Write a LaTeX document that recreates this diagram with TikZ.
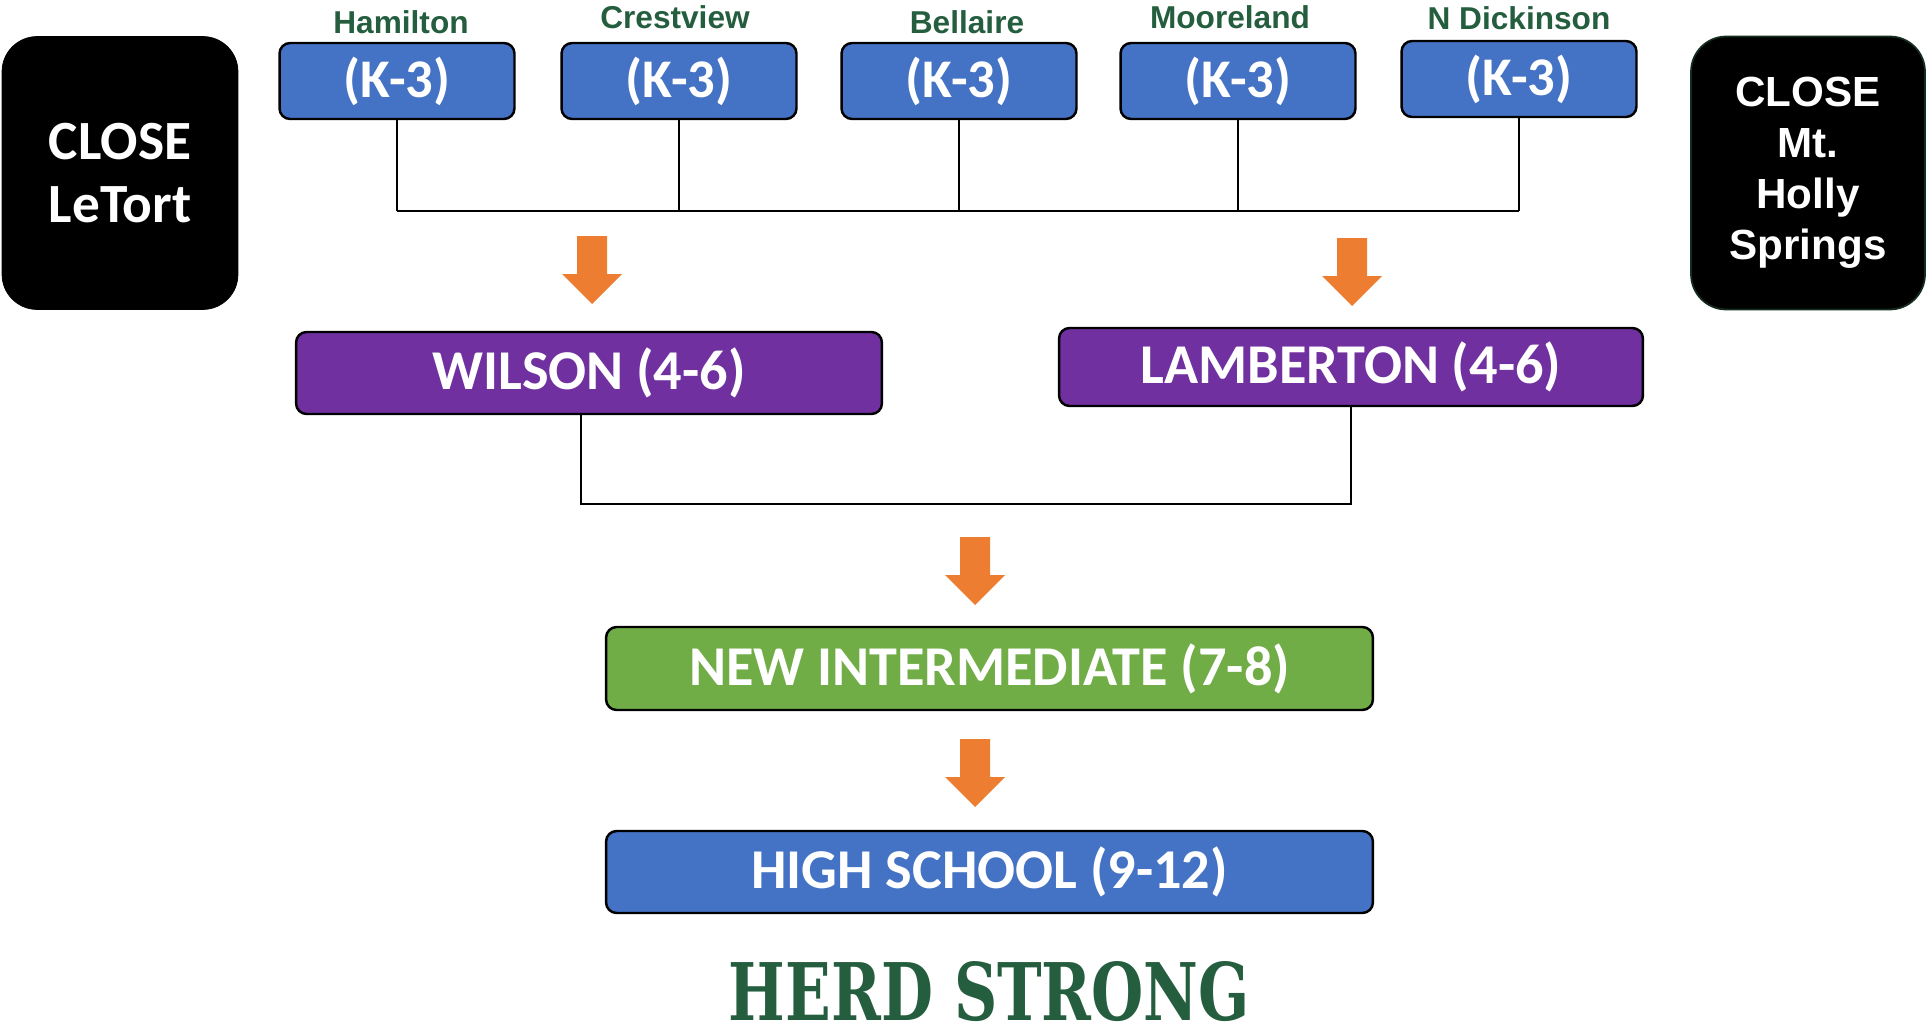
\documentclass[tikz,border=0pt]{standalone}
\usepackage{fontspec}
\usepackage{graphicx}
\setmainfont{Carlito}
\newfontfamily\arialfont{Liberation Sans}
\newfontfamily\herdfont{DejaVu Serif}
\usetikzlibrary{positioning,calc}

\definecolor{boxblue}{HTML}{4472C4}
\definecolor{boxpurple}{HTML}{7030A0}
\definecolor{boxgreen}{HTML}{70AD47}
\definecolor{arrorange}{HTML}{ED7D31}
\definecolor{herdgreen}{HTML}{255E3F}

\tikzset{
    grade/.style={draw=black, line width=1.4pt, rounded corners=6pt, text=white, inner sep=0pt,
        fill=boxblue, minimum width=4.7cm, minimum height=1.52cm, font=\bfseries\fontsize{31}{36}\selectfont},
    level/.style={grade, minimum height=1.64cm, font=\bfseries\fontsize{32}{38}\selectfont},
    closed/.style={draw=black, fill=black, rounded corners=20pt, text=white, align=center,
        minimum width=4.72cm, minimum height=5.46cm, inner sep=0pt},
    school/.style={text=herdgreen, font=\arialfont\bfseries\fontsize{18}{21}\selectfont, inner sep=0pt},
    link/.style={draw=black, line width=1.3pt},
    blockarr/.pic={\fill[arrorange] (-15,0) -- (15,0) -- (15,38) -- (30,38) -- (0,68) -- (-30,38) -- (-15,38) -- cycle;}
}

\begin{document}
\begin{tikzpicture}[x=0.02cm, y=-0.02cm]
    \useasboundingbox (0,0) rectangle (1927,1031);

    % closed schools
    \node[closed, font=\bfseries\fontsize{31.5}{36}\selectfont] (letort) at (120,173) {CLOSE\\LeTort};
    \node[closed, draw={rgb,255:red,20;green,45;blue,30}, line width=1pt, minimum width=4.68cm,
        font=\arialfont\bfseries\fontsize{24}{29}\selectfont] (mtholly) at (1808,173) {CLOSE\\Mt.\\Holly\\Springs};

    % K-3 schools
    \node[grade] (ham) at (397,81) {(K-3)};
    \node[grade] (crest) at (679,81) {(K-3)};
    \node[grade] (bell) at (959,81) {(K-3)};
    \node[grade] (moor) at (1238,81) {(K-3)};
    \node[grade] (ndick) at (1519,79) {(K-3)};

    \node[school] (lblham) at (401,22) {Hamilton};
    \node[school] (lblcrest) at (675,17) {Crestview};
    \node[school] (lblbell) at (967,22) {Bellaire};
    \node[school] (lblmoor) at (1230,17) {Mooreland};
    \node[school] (lblndick) at (1519,18) {N Dickinson};

    \coordinate (bar1) at (0,211);
    \foreach \s in {ham,crest,bell,moor,ndick}
        \draw[link] (\s.south) -- (\s.south |- bar1);
    \draw[link] (ham.south |- bar1) -- (ndick.south |- bar1);

    \pic at (592,236) {blockarr};
    \pic at (1352,238) {blockarr};

    % 4-6
    \node[level, fill=boxpurple, minimum width=11.72cm] (wilson) at (589,373) {WILSON (4-6)};
    \node[level, fill=boxpurple, minimum width=11.68cm, minimum height=1.56cm] (lamberton) at (1351,367) {LAMBERTON (4-6)};

    \coordinate (bar2) at (0,504);
    \draw[link] ($(wilson.south)+(-8,0)$) -- ($(wilson.south |- bar2)+(-8,0)$) -- (lamberton.south |- bar2) -- (lamberton.south);

    \pic at (975,537) {blockarr};

    % 7-8 and 9-12
    \node[level, fill=boxgreen, minimum width=15.34cm, minimum height=1.66cm] (newint) at (989.5,668.5) {NEW INTERMEDIATE (7-8)};

    \pic at (975,739) {blockarr};

    \node[level, minimum width=15.34cm] (high) at (989.5,872) {HIGH SCHOOL (9-12)};

    \node[anchor=base, inner sep=0pt, text=herdgreen] (herd) at (989.5,1020)
        {\resizebox{10.42cm}{1.18cm}{\herdfont\bfseries HERD STRONG}};
\end{tikzpicture}
\end{document}
